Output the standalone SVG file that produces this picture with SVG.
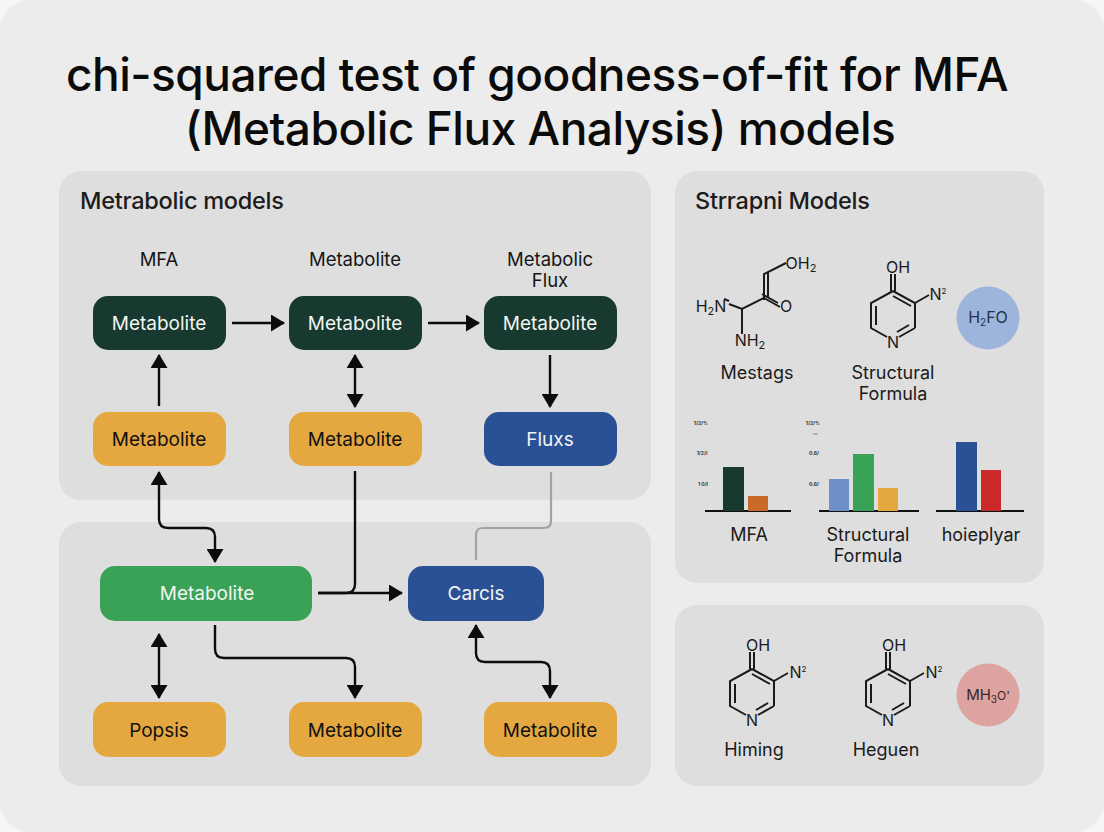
<svg xmlns="http://www.w3.org/2000/svg" width="1104" height="832" viewBox="0 0 1104 832">
<style>
text{font-family:Inter,"Liberation Sans",sans-serif;fill:#111}
.t{font-size:46px;font-weight:500;letter-spacing:-.49px;text-anchor:middle;fill:#0b0b0b}
.h{font-size:23.5px;font-weight:500;letter-spacing:-.25px;fill:#1c1c1c}
.l{font-size:18px;text-anchor:middle;fill:#1a1a1a}
.n{font-size:19px;text-anchor:middle;dominant-baseline:central}
.w{fill:#f2f5f2}
.c{font-size:16px;text-anchor:middle;fill:#1a1a1a}
.a{font-size:18.5px;fill:#151515;text-anchor:middle}
.tick{font-size:5px;font-weight:700;fill:#333;text-anchor:middle}
.panel{fill:#dedede}
.dark{fill:#17392f}.amb{fill:#e5a841}.blu{fill:#2a5095}.grn{fill:#3aa257}
.e{fill:none;stroke:#0c0c0c;stroke-width:2.4}
.g{fill:none;stroke:#a3a3a3;stroke-width:2.2}
.b{fill:none;stroke:#1a1a1a;stroke-width:2}
.ax{stroke:#111;stroke-width:2}
</style>
<defs>
<marker id="ah" viewBox="0 0 14 17" refX="13" refY="8.5" markerWidth="14" markerHeight="17" markerUnits="userSpaceOnUse" orient="auto-start-reverse"><path d="M0 0L14 8.5L0 17Z" fill="#0c0c0c"/></marker>
<path id="ring" class="b" d="M0 0L22 12V37M22 37L6 46M-6 46L-22 37V12L0 0M-2 0V-17M2 0V-17M0 5L18 15M-17 15V34M4 41L16 34M22 12L36 4"/>
</defs>
<rect width="1104" height="832" fill="#f6f6f6"/>
<rect x="0" y="0" width="1104" height="832" rx="30" fill="#ececec"/>
<g id="title">
<text class="t" x="537" y="91">chi-squared test of goodness-of-fit for MFA</text>
<text class="t" x="540" y="145">(Metabolic Flux Analysis) models</text>
</g>
<g id="panels">
<rect class="panel" x="59" y="171" width="592" height="329" rx="22"/>
<rect class="panel" x="59" y="522" width="592" height="264" rx="22"/>
<rect class="panel" x="675" y="171" width="369" height="412" rx="22"/>
<rect class="panel" x="675" y="605" width="369" height="181" rx="22"/>
<text class="h" x="80" y="209">Metrabolic models</text>
<text class="h" x="695" y="209">Strrapni Models</text>
<text class="a" x="159" y="266">MFA</text>
<text class="a" x="355" y="266">Metabolite</text>
<text class="a" x="550" y="266">Metabolic</text>
<text class="a" x="550" y="287">Flux</text>
</g>
<g id="connectors">
<path class="e" marker-end="url(#ah)" d="M232 323H284"/>
<path class="e" marker-end="url(#ah)" d="M428 323H479"/>
<path class="e" marker-end="url(#ah)" d="M159 406V355"/>
<path class="e" marker-start="url(#ah)" marker-end="url(#ah)" d="M355 355V407"/>
<path class="e" marker-end="url(#ah)" d="M550 355V407"/>
<path class="e" marker-start="url(#ah)" marker-end="url(#ah)" d="M159 472V519Q159 528 168 528H206Q215 528 215 537V562"/>
<path class="e" d="M355 471V584Q355 593 346 593H318"/>
<path class="e" marker-end="url(#ah)" d="M318 593H402"/>
<path class="g" d="M551 472V521Q551 528 544 528H483Q476 528 476 535V560"/>
<path class="e" marker-start="url(#ah)" marker-end="url(#ah)" d="M159 634V698"/>
<path class="e" d="M215 625V649Q215 658 224 658H346Q355 658 355 667V698" marker-end="url(#ah)"/>
<path class="e" marker-start="url(#ah)" marker-end="url(#ah)" d="M476 625V653Q476 662 485 662H541Q550 662 550 671V698"/>
</g>
<g id="n1"><rect class="dark" x="93" y="296" width="133" height="54" rx="15"/><text class="n w" x="159" y="323">Metabolite</text></g>
<g id="n2"><rect class="dark" x="289" y="296" width="133" height="54" rx="15"/><text class="n w" x="355" y="323">Metabolite</text></g>
<g id="n3"><rect class="dark" x="484" y="296" width="133" height="54" rx="15"/><text class="n w" x="550" y="323">Metabolite</text></g>
<g id="n4"><rect class="amb" x="93" y="412" width="133" height="54" rx="15"/><text class="n" x="159" y="439">Metabolite</text></g>
<g id="n5"><rect class="amb" x="289" y="412" width="133" height="54" rx="15"/><text class="n" x="355" y="439">Metabolite</text></g>
<g id="n6"><rect class="blu" x="484" y="412" width="133" height="54" rx="15"/><text class="n w" x="550" y="439">Fluxs</text></g>
<g id="n7"><rect class="grn" x="100" y="566" width="212" height="55" rx="15"/><text class="n w" x="207" y="593">Metabolite</text></g>
<g id="n8"><rect class="blu" x="408" y="566" width="136" height="55" rx="15"/><text class="n w" x="476" y="593">Carcis</text></g>
<g id="n9"><rect class="amb" x="93" y="702" width="133" height="55" rx="15"/><text class="n" x="159" y="730">Popsis</text></g>
<g id="n10"><rect class="amb" x="289" y="702" width="133" height="55" rx="15"/><text class="n" x="355" y="730">Metabolite</text></g>
<g id="n11"><rect class="amb" x="484" y="702" width="133" height="55" rx="15"/><text class="n" x="550" y="730">Metabolite</text></g>
<g id="mol1">
<path class="b" d="M764 300V274L786 263M768 298V273M764 298L780 307M762 294L778 303M764 298L742 309L729 304M742 309V334M729 301L724 299"/>
<text class="c" x="801" y="269">OH<tspan font-size="11" dy="3">2</tspan></text>
<text class="c" x="711" y="312">H<tspan font-size="11" dy="3">2</tspan><tspan dy="-3">N</tspan></text>
<text class="c" x="786" y="312">O</text>
<text class="c" x="750" y="346">NH<tspan font-size="11" dy="3">2</tspan></text>
<text class="l" x="757" y="379">Mestags</text>
</g>
<g id="mol2">
<use href="#ring" x="893" y="291"/>
<text class="c" x="898" y="273">OH</text>
<text class="c" x="938" y="300">N<tspan font-size="8" dy="-6">2</tspan></text>
<text class="c" x="893" y="348">N</text>
<text class="l" x="893" y="379">Structural</text>
<text class="l" x="893" y="400">Formula</text>
</g>
<g id="c1"><circle cx="988" cy="318" r="31.5" fill="#9db5dc"/><text class="c" x="988" y="323" style="fill:#26324a">H<tspan font-size="10" dy="3">2</tspan><tspan dy="-3">FO</tspan></text></g>
<g id="chart1">
<text class="tick" x="701" y="425">1/2/%</text><text class="tick" x="702" y="455">1/2/I</text><text class="tick" x="703" y="486">1 0/I</text>
<path class="ax" d="M705 511H791"/>
<rect x="723" y="467" width="21" height="44" fill="#17392f"/>
<rect x="748" y="496" width="20" height="15" fill="#c9692a"/>
<text class="l" x="749" y="541">MFA</text>
</g>
<g id="chart2">
<text class="tick" x="813" y="425">1/2/%</text><path d="M813 434H818" stroke="#888" stroke-width="1"/><text class="tick" x="814" y="455">0.6/</text><text class="tick" x="814" y="486">0.6/</text>
<path class="ax" d="M819 511H919"/>
<rect x="829" y="479" width="20" height="32" fill="#6f8fc7"/>
<rect x="853" y="454" width="21" height="57" fill="#3aa257"/>
<rect x="878" y="488" width="20" height="23" fill="#e5a841"/>
<text class="l" x="868" y="541">Structural</text>
<text class="l" x="868" y="562">Formula</text>
</g>
<g id="chart3">
<path class="ax" d="M936 511H1024"/>
<rect x="956" y="442" width="21" height="69" fill="#2a5095"/>
<rect x="981" y="470" width="20" height="41" fill="#cb2a2a"/>
<text class="l" x="981" y="541">hoieplyar</text>
</g>
<g id="mol3">
<use href="#ring" x="752" y="669"/>
<text class="c" x="758" y="651">OH</text>
<text class="c" x="798" y="678">N<tspan font-size="8" dy="-6">2</tspan></text>
<text class="c" x="752" y="726">N</text>
<text class="l" x="754" y="756">Himing</text>
</g>
<g id="mol4">
<use href="#ring" x="888" y="669"/>
<text class="c" x="894" y="651">OH</text>
<text class="c" x="934" y="678">N<tspan font-size="8" dy="-6">2</tspan></text>
<text class="c" x="888" y="726">N</text>
<text class="l" x="886" y="756">Heguen</text>
</g>
<g id="c2"><circle cx="988" cy="695" r="31.5" fill="#dca3a0"/><text class="c" x="988" y="700" style="font-size:15px;fill:#3a2626">MH<tspan font-size="10" dy="3">3</tspan><tspan dy="-3" font-size="12">O'</tspan></text></g>
</svg>
